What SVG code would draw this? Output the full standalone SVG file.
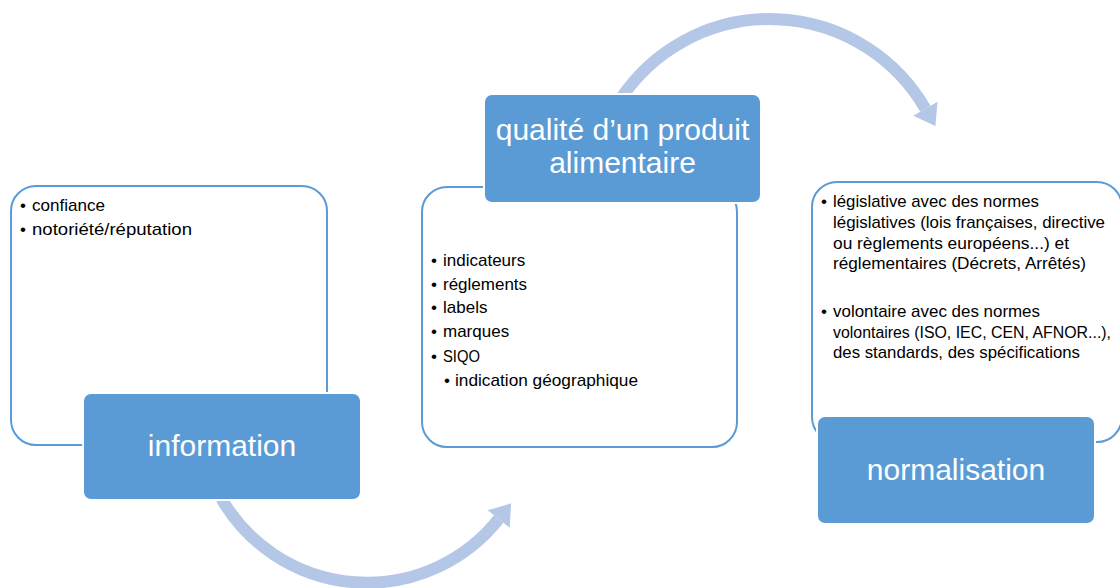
<svg xmlns="http://www.w3.org/2000/svg" width="1120" height="588" viewBox="0 0 1120 588">
<defs>
<style>
.outline{fill:#fff;stroke:#5B9BD5;stroke-width:2}
.label{fill:#5B9BD5;stroke:#fff;stroke-width:2}
.lt{font-family:"Liberation Sans",Arial,sans-serif;font-size:30px;fill:#fff;text-anchor:middle}
.bt{font-family:"Liberation Sans",Arial,sans-serif;font-size:17px;fill:#000}
.arc{fill:none;stroke:#B4C7E7;stroke-width:12}
.head{fill:#B4C7E7}
</style>
</defs>
<rect width="1120" height="588" fill="#fff"/>
<g id="connectors">
<path class="arc" d="M221.5,498.7 A168,168 0 0 0 498.7,519"/>
<polygon class="head" points="511.1,503.3 509.7,527.7 487.7,510.3"/>
<path class="arc" d="M621.2,98.1 A179.5,179.5 0 0 1 925.4,108.75"/>
<polygon class="head" points="935.4,126.1 937.5,101.75 913.3,115.75"/>
</g>
<g id="information">
<rect class="outline" x="11" y="186" width="316" height="259" rx="25"/>
<g class="bt">
<text x="20" y="211">•</text><text x="32" y="211" textLength="73" lengthAdjust="spacingAndGlyphs">confiance</text>
<text x="20" y="235">•</text><text x="32" y="235" textLength="160" lengthAdjust="spacingAndGlyphs">notoriété/réputation</text>
</g>
<rect class="label" x="83" y="393" width="278" height="107" rx="8"/>
<text class="lt" x="222" y="456">information</text>
</g>
<g id="qualite">
<rect class="outline" x="422" y="187" width="315" height="260" rx="25"/>
<g class="bt">
<text x="431" y="266">•</text><text x="443" y="266">indicateurs</text>
<text x="431" y="290">•</text><text x="443" y="290">réglements</text>
<text x="431" y="313">•</text><text x="443" y="313">labels</text>
<text x="431" y="337">•</text><text x="443" y="337">marques</text>
<text x="431" y="361.5">•</text><text x="443" y="361.5" textLength="37" lengthAdjust="spacingAndGlyphs">SIQO</text>
<text x="444" y="385.5">•</text><text x="455" y="385.5" textLength="183" lengthAdjust="spacingAndGlyphs">indication géographique</text>
</g>
<rect class="label" x="484" y="94" width="277" height="109" rx="8"/>
<text class="lt" x="622.5" y="140">qualité d’un produit</text>
<text class="lt" x="622.5" y="173">alimentaire</text>
</g>
<g id="normalisation">
<rect class="outline" x="812" y="182" width="310" height="260" rx="25"/>
<g class="bt">
<text x="821" y="207">•</text><text x="833" y="207" textLength="206" lengthAdjust="spacingAndGlyphs">législative avec des normes</text>
<text x="833" y="228" textLength="272" lengthAdjust="spacingAndGlyphs">législatives (lois françaises, directive</text>
<text x="833" y="248.5" textLength="236" lengthAdjust="spacingAndGlyphs">ou règlements européens...) et</text>
<text x="833" y="269" textLength="253" lengthAdjust="spacingAndGlyphs">réglementaires (Décrets, Arrêtés)</text>
<text x="821" y="317">•</text><text x="833" y="317" textLength="207" lengthAdjust="spacingAndGlyphs">volontaire avec des normes</text>
<text x="833" y="337.5" font-size="15.8" textLength="278" lengthAdjust="spacingAndGlyphs">volontaires (ISO, IEC, CEN, AFNOR...),</text>
<text x="833" y="357.5" textLength="247" lengthAdjust="spacingAndGlyphs">des standards, des spécifications</text>
</g>
<rect class="label" x="817" y="416" width="278" height="108" rx="8"/>
<text class="lt" x="956" y="480">normalisation</text>
</g>
</svg>
